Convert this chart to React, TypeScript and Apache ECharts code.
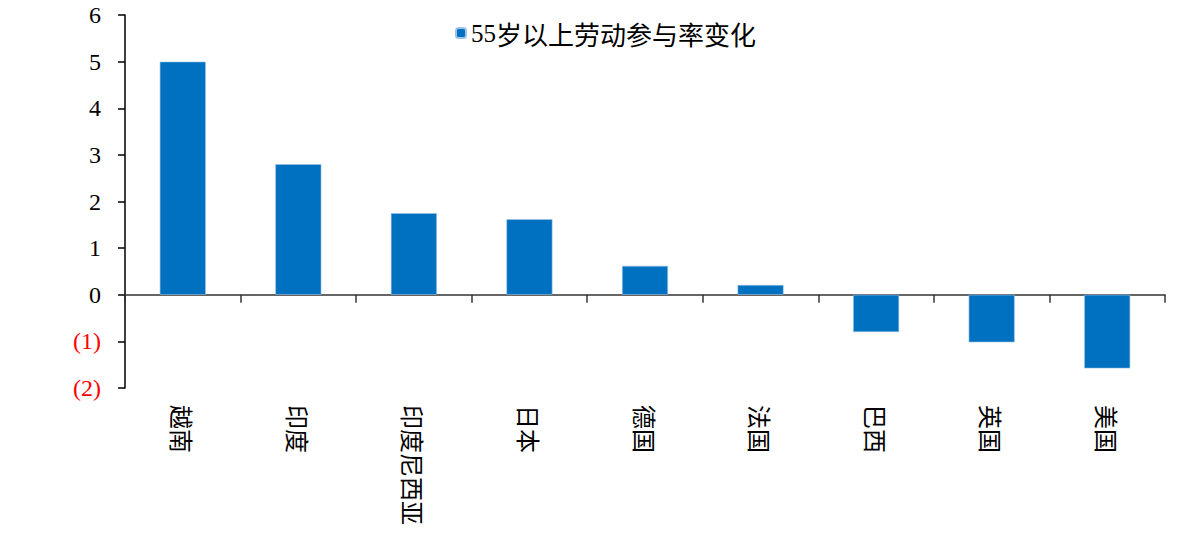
import { useEffect, useRef } from 'react'
import * as echarts from 'echarts'

const countries = ['越南', '印度', '印度尼西亚', '日本', '德国', '法国', '巴西', '英国', '美国']
const changes = [5.0, 2.8, 1.75, 1.62, 0.62, 0.21, -0.8, -1.02, -1.58]
const seriesName = '55岁以上劳动参与率变化'
const yMin = -2
const yMax = 6

export default function App() {
  const chartRef = useRef<HTMLDivElement>(null)

  useEffect(() => {
    if (!chartRef.current) return
    const chart = echarts.init(chartRef.current, undefined, { renderer: 'svg' })

    chart.setOption({
      animation: false,
      grid: { left: 117, right: 27, top: 7, bottom: 139, outerBoundsMode: 'none', containLabel: false },
      legend: {
        data: [seriesName],
        top: 12,
        left: 447,
        padding: 0,
        itemWidth: 10,
        itemHeight: 10,
        itemGap: 7,
        formatter: (name: string) => `{n|${name.slice(0, 2)}}{c|${name.slice(2)}}`,
        textStyle: {
          color: '#000',
          rich: {
            n: { fontSize: 25, fontFamily: "'Liberation Serif', serif", color: '#000' },
            c: { fontSize: 26, fontFamily: "'Noto Sans CJK SC', sans-serif", color: '#000' },
          },
        },
      },
      xAxis: {
        type: 'category',
        data: countries,
        axisLine: { onZero: true, lineStyle: { color: '#333', width: 1.5 } },
        axisTick: { show: true, length: 8, lineStyle: { color: '#333', width: 1.5 } },
        axisLabel: {
          rotate: -90,
          margin: 17,
          fontSize: 24,
          fontFamily: "'Noto Sans CJK SC', sans-serif",
          color: '#000',
        },
      },
      yAxis: {
        type: 'value',
        min: yMin,
        max: yMax,
        interval: 1,
        splitLine: { show: false },
        axisLine: { show: true, lineStyle: { color: '#000', width: 1.5 } },
        axisTick: { show: true, length: 7, lineStyle: { color: '#000', width: 1.5 } },
        axisLabel: {
          margin: 24,
          fontSize: 24,
          fontFamily: "'Liberation Serif', serif",
          formatter: (v: number) => (v < 0 ? `(${-v})` : `${v}`),
          color: (v: any) => (Number(v) < 0 ? '#ff0000' : '#000'),
        },
      },
      series: [
        {
          name: seriesName,
          type: 'bar',
          data: changes,
          barWidth: 46,
          itemStyle: { color: '#0070C0', borderColor: '#9DC3E6', borderWidth: 0.6 },
        },
      ],
    })

    return () => {
      chart.dispose()
    }
  }, [])

  return <div ref={chartRef} style={{ width: 1184, height: 519 }} />
}
